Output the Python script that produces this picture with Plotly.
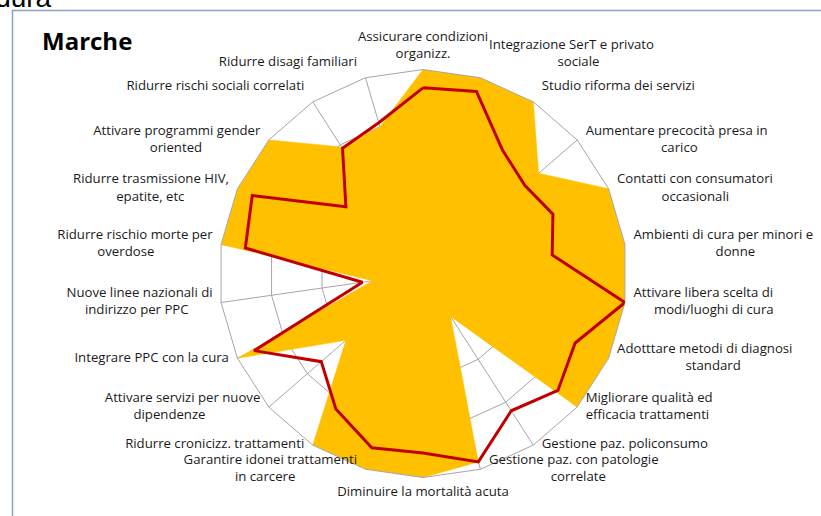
import plotly.graph_objects as go

# Categorie (in senso orario dall'alto), righe dell'etichetta
righe = [
    ["Assicurare condizioni", "organizz."],
    ["Integrazione SerT e privato", "sociale"],
    ["Studio riforma dei servizi"],
    ["Aumentare precocità presa in", "carico"],
    ["Contatti con consumatori", "occasionali"],
    ["Ambienti di cura per minori e", "donne"],
    ["Attivare libera scelta di", "modi/luoghi di cura"],
    ["Adotttare metodi di diagnosi", "standard"],
    ["Migliorare qualità ed", "efficacia trattamenti"],
    ["Gestione paz. policonsumo"],
    ["Gestione paz. con patologie", "correlate"],
    ["Diminuire la mortalità acuta"],
    ["Garantire idonei trattamenti", "in carcere"],
    ["Ridurre cronicizz. trattamenti"],
    ["Attivare servizi per nuove", "dipendenze"],
    ["Integrare PPC con la cura"],
    ["Nuove linee nazionali di", "indirizzo per PPC"],
    ["Ridurre rischio morte per", "overdose"],
    ["Ridurre trasmissione HIV,", "epatite, etc"],
    ["Attivare programmi gender", "oriented"],
    ["Ridurre rischi sociali correlati"],
    ["Ridurre disagi familiari"],
]

# valori regione (area arancione) e media (linea rossa), scala 0-4
marche = [4, 4, 4, 3, 4, 4, 4, 4, 4, 1, 3.85, 4, 4, 4, 2, 4, 1, 4, 4, 4, 2.95, 3.0]
media = [3.64, 3.72, 2.88, 2.64, 2.8, 2.56, 4.0, 3.28, 3.5, 3.2, 3.85,
         3.52, 3.56, 3.16, 2.64, 3.64, 1.2, 3.52, 3.68, 2.0, 2.92, 3.08]

# posizione del testo di ogni etichetta rispetto al vertice esterno
pos_etichette = (["top center", "top right", "top right"]
                 + ["middle right"] * 8
                 + ["bottom center"]
                 + ["middle left"] * 8
                 + ["top left", "top left"])

categorie = [" ".join(l) for l in righe]


# centra le righe brevi con spazi (il testo e' ancorato a sinistra/destra)
def etichetta(pos, linee):
    if len(linee) == 1:
        return linee[0]
    lung = max(len(s) for s in linee)
    out = []
    for s in linee:
        pad = "&nbsp;" * round(lung - len(s))
        if pos.endswith("right"):
            s = pad + s
        elif pos.endswith("left"):
            s = s + pad
        out.append(s)
    return "<br>".join(out)


testi = [etichetta(p, l) for p, l in zip(pos_etichette, righe)]

fig = go.Figure()

fig.add_trace(go.Scatterpolar(
    r=marche + marche[:1], theta=categorie + categorie[:1],
    fill="toself", fillcolor="#ffc000", mode="lines",
    line=dict(color="#ffc000", width=0.5), subplot="polar", hoverinfo="skip",
))
fig.add_trace(go.Scatterpolar(
    r=media + media[:1], theta=categorie + categorie[:1],
    mode="lines", line=dict(color="#c00000", width=3), subplot="polar2",
))
# etichette delle categorie sul bordo esterno della griglia
fig.add_trace(go.Scatterpolar(
    r=[4] * len(categorie), theta=categorie, mode="markers+text",
    marker=dict(size=12, opacity=0), text=testi, textposition=pos_etichette,
    textfont=dict(family="Open Sans", size=13.2, color="#1a1a1a"),
    cliponaxis=False, subplot="polar2", hoverinfo="skip",
))

dom = dict(x=[219 / 821, 627 / 821], y=[1 - 477.5 / 516, 1 - 69.5 / 516])
grid = "#a6a6a6"

fig.update_layout(
    width=821, height=516,
    margin=dict(l=0, r=0, t=0, b=0),
    paper_bgcolor="white",
    showlegend=False,
    font=dict(family="Open Sans", size=13.2, color="#1a1a1a"),
    polar=dict(
        domain=dom, gridshape="linear", bgcolor="white",
        radialaxis=dict(range=[0, 4], tickvals=[1, 2, 3, 4], showticklabels=False,
                        ticks="", showline=False, gridcolor=grid, gridwidth=1,
                        layer="above traces"),
        angularaxis=dict(rotation=90, direction="clockwise", gridcolor=grid,
                         linecolor=grid, linewidth=1, ticks="",
                         showticklabels=False, layer="above traces"),
    ),
    polar2=dict(
        domain=dom, gridshape="linear", bgcolor="rgba(0,0,0,0)",
        radialaxis=dict(range=[0, 4], visible=False),
        angularaxis=dict(rotation=90, direction="clockwise", showgrid=False,
                         showline=False, showticklabels=False, ticks=""),
    ),
    shapes=[dict(type="rect", xref="paper", yref="paper",
                 x0=12.5 / 821, x1=1.2, y0=-0.2, y1=1 - 10.5 / 516,
                 line=dict(color="#8ea0bf", width=1.5))],
    annotations=[
        dict(text="<b>Marche</b>", xref="paper", yref="paper",
             x=40 / 821, y=1 - 40 / 516, xanchor="left", yanchor="middle",
             showarrow=False, font=dict(family="Open Sans", size=24, color="black")),
        dict(text="Procedura", xref="paper", yref="paper",
             x=54 / 821, y=1 - 15 / 516, xanchor="right", yanchor="bottom",
             showarrow=False, font=dict(family="Liberation Sans", size=28, color="black")),
    ],
)

fig.write_html("out.html", config={"displayModeBar": False},
               post_script="document.body.style.margin='0';")
